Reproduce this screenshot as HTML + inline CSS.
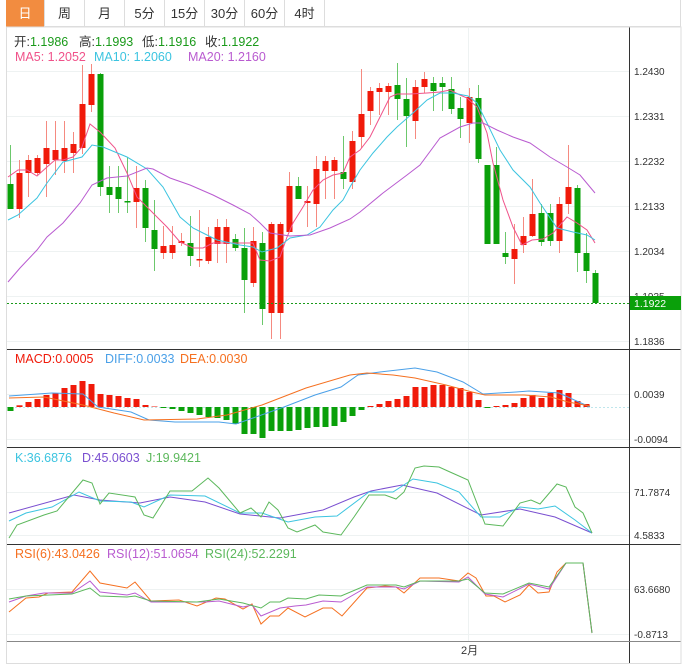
<!DOCTYPE html>
<html><head><meta charset="utf-8"><style>
body{margin:0;background:#fff;width:687px;height:672px;overflow:hidden;font-family:"Liberation Sans","Noto Sans CJK SC",sans-serif}
.tab{position:absolute;top:0;height:27px;line-height:27px;text-align:center;font-size:13px;color:#333;border-right:1px solid #ddd;box-sizing:border-box}
</style></head><body>
<div style="position:absolute;left:6px;top:0;width:675px;height:27px;border:1px solid #ddd;border-top:none;box-sizing:border-box"></div>
<div class="tab" style="left:6px;width:39px;background:#f28c40;color:#fff">日</div>
<div class="tab" style="left:45px;width:40px">周</div>
<div class="tab" style="left:85px;width:40px">月</div>
<div class="tab" style="left:125px;width:40px">5分</div>
<div class="tab" style="left:165px;width:40px">15分</div>
<div class="tab" style="left:205px;width:40px">30分</div>
<div class="tab" style="left:245px;width:40px">60分</div>
<div class="tab" style="left:285px;width:40px">4时</div>
<svg id="s" width="687" height="672" style="position:absolute;left:0;top:0" font-family="Liberation Sans, Noto Sans CJK SC, sans-serif">
<g stroke="#eef2f2" stroke-width="1">
<line x1="7" y1="71.5" x2="629" y2="71.5"/><line x1="7" y1="116.5" x2="629" y2="116.5"/><line x1="7" y1="161.5" x2="629" y2="161.5"/><line x1="7" y1="206.5" x2="629" y2="206.5"/><line x1="7" y1="251.5" x2="629" y2="251.5"/><line x1="7" y1="296.5" x2="629" y2="296.5"/><line x1="7" y1="341.5" x2="629" y2="341.5"/>
<line x1="7" y1="394.5" x2="629" y2="394.5"/><line x1="7" y1="439.5" x2="629" y2="439.5"/>
<line x1="7" y1="492.5" x2="629" y2="492.5"/><line x1="7" y1="535.5" x2="629" y2="535.5"/>
<line x1="7" y1="589.5" x2="629" y2="589.5"/><line x1="7" y1="634.5" x2="629" y2="634.5"/>
<line x1="468.5" y1="28" x2="468.5" y2="641"/>
</g>
<g stroke="#333" stroke-width="1">
<line x1="629.5" y1="27" x2="629.5" y2="664"/>
<line x1="7" y1="349.5" x2="681" y2="349.5"/><line x1="7" y1="447.5" x2="681" y2="447.5"/><line x1="7" y1="544.5" x2="681" y2="544.5"/>
</g>
<line x1="7" y1="641.5" x2="681" y2="641.5" stroke="#888"/>
<rect x="6.5" y="27" width="674.5" height="636.5" fill="none" stroke="#ddd"/>
<line x1="7" y1="407.5" x2="629" y2="407.5" stroke="#bfe6ec" stroke-dasharray="2,2"/>
<g id="c"></g>
<g fill="#333" font-size="10">
<text x="634" y="75">1.2430</text><text x="634" y="120">1.2331</text><text x="634" y="165">1.2232</text><text x="634" y="210">1.2133</text><text x="634" y="255">1.2034</text><text x="634" y="300">1.1935</text><text x="634" y="345">1.1836</text>
<text x="634" y="398">0.0039</text><text x="634" y="443">-0.0094</text>
<text x="634" y="496">71.7874</text><text x="634" y="539">4.5833</text>
<text x="634" y="593">63.6680</text><text x="634" y="638">-0.8713</text>
<text x="461" y="654" font-size="11">2月</text>
</g>
<line x1="7" y1="303.5" x2="629" y2="303.5" stroke="#1a9a1a" stroke-dasharray="2,2"/>
<rect x="630" y="296" width="51" height="14" fill="#0aa00a"/>
<text x="634" y="307" fill="#fff" font-size="10.5">1.1922</text>
<g font-size="12.5">
<text x="14" y="46"><tspan fill="#333">开:</tspan><tspan fill="#1a9a1a">1.1986</tspan></text>
<text x="79" y="46"><tspan fill="#333">高:</tspan><tspan fill="#1a9a1a">1.1993</tspan></text>
<text x="142" y="46"><tspan fill="#333">低:</tspan><tspan fill="#1a9a1a">1.1916</tspan></text>
<text x="205" y="46"><tspan fill="#333">收:</tspan><tspan fill="#1a9a1a">1.1922</tspan></text>
<text x="15" y="61" fill="#f0528a">MA5: 1.2052</text>
<text x="94" y="61" fill="#3cc4e0">MA10: 1.2060</text>
<text x="188" y="61" fill="#b95bd0">MA20: 1.2160</text>
<text x="15" y="363" fill="#f01a0a">MACD:0.0005</text>
<text x="105" y="363" fill="#4aa0e8">DIFF:0.0033</text>
<text x="180" y="363" fill="#f57020">DEA:0.0030</text>
<text x="15" y="462" fill="#3cc4e0">K:36.6876</text>
<text x="82" y="462" fill="#7a4fd0">D:45.0603</text>
<text x="146" y="462" fill="#5cb85c">J:19.9421</text>
<text x="15" y="558" fill="#f57020">RSI(6):43.0426</text>
<text x="107" y="558" fill="#b95bd0">RSI(12):51.0654</text>
<text x="205" y="558" fill="#5cb85c">RSI(24):52.2291</text>
</g>
</svg>
<script>
var C=[["G",145,184,209,209],["R",160,173,209,218],["R",155,160,173,197],["R",155,158,173,175],["R",121,148,164,197],["R",121,150,160,175],["R",121,148,161,173],["R",132,144,153,173],["R",65,104,148,154],["R",64,74,105,112],["G",73,74,187,196],["G",166,187,195,213],["G",166,187,199,213],["G",157,201,202,213],["R",166,188,202,228],["G",180,188,228,242],["G",200,230,249,271],["R",226,246,253,259],["R",226,245,253,259],["R",233,241,243,246],["G",216,243,256,266],["R",210,259,260,267],["R",227,237,261,264],["R",219,227,244,263],["R",219,227,244,263],["G",234,239,248,251],["G",228,248,280,313],["R",227,241,283,287],["G",232,243,309,325],["R",222,224,313,339],["R",222,224,313,339],["R",172,186,232,232],["G",177,186,199,199],["R",186,201,203,227],["R",156,169,204,227],["R",156,161,171,199],["R",157,160,171,199],["G",136,172,179,189],["R",131,141,182,189],["R",69,114,137,148],["R",87,91,111,125],["R",83,88,92,115],["R",83,86,92,115],["G",63,85,99,120],["G",78,99,116,147],["R",80,87,121,139],["R",72,79,87,93],["G",77,83,91,111],["G",77,83,87,111],["G",77,89,109,114],["G",97,108,119,138],["R",88,97,123,143],["G",85,98,159,163],["G",165,165,244,244],["G",147,165,244,244],["G",232,253,257,264],["R",224,249,259,284],["R",217,236,245,253],["R",179,214,236,237],["G",204,213,242,246],["G",204,213,241,246],["R",197,204,241,253],["R",145,187,204,214],["G",185,188,253,272],["G",233,253,271,283],["G",270,273,303,304]];
var M=[0,-1.7,-5,-8,-12,-14,-19,-22,-26,-23,-13,-12,-11,-9,-8,-2,-0.5,1,2,4,6,8,10,11,13,17,27,27,31,24,24,24,23,21,20,20,19,15,9,3,-1,-3,-6,-8,-11,-20,-20,-22,-22,-20,-19,-15,-7,1,-1,-2,-4,-9,-12,-9,-14,-17,-14,-6,-3,0];M[0]=4;
var h='';
function X(i){return 10+9*i}
C.forEach(function(c,i){var x=X(i),r=c[0]=="R";var col=r?"#f01a0a":"#0aa00a",wc=r?"#f58a80":"#6cc86c";
h+='<line x1="'+(x+.5)+'" y1="'+c[1]+'" x2="'+(x+.5)+'" y2="'+c[4]+'" stroke="'+wc+'"/>';
h+='<rect x="'+(x-2.5)+'" y="'+c[2]+'" width="6" height="'+Math.max(1.5,c[3]-c[2])+'" fill="'+col+'"/>';});
M.forEach(function(m,i){var x=X(i);if(Math.abs(m)<0.3)return;var col=m<0?"#f01a0a":"#0aa00a";
h+='<rect x="'+(x-2.5)+'" y="'+(m<0?407+m:407)+'" width="6" height="'+Math.abs(m)+'" fill="'+col+'"/>';});
function P(pts,col){h+='<polyline fill="none" stroke="'+col+'" stroke-width="1" points="'+pts+'"/>';}
P("8,177 18,170 27,170 37,176 47,167 55,160 63,160 73,157 82,147 90,124 100,132 115,148 127,173 137,197 147,207 157,217 167,227 180,242 193,248 203,248 213,243 227,243 240,243 253,243 260,260 270,261 280,257 287,237 293,223 303,207 313,190 323,180 333,175 343,173 350,157 360,150 370,137 380,117 390,97 397,94 410,94 427,93 440,92 450,90 460,95 467,98 477,107 487,133 493,163 503,200 513,227 522,245 532,240 543,239 553,233 567,217 577,223 587,230 595,243","#f0528a");
P("8,220 18,215 37,198 47,183 63,162 82,157 92,145 103,147 127,157 147,169 163,187 180,217 193,228 203,233 217,240 240,245 253,247 262,252 277,248 290,238 307,235 320,227 333,210 343,200 350,187 360,170 373,153 387,137 397,127 413,113 427,100 440,93 453,93 468,96 477,103 487,123 500,150 513,170 530,187 540,203 557,228 573,232 587,235 595,240","#3cc4e0");
P("8,282 20,268 37,250 47,237 63,223 80,203 92,185 107,178 127,176 147,168 153,169 170,178 190,185 213,195 233,205 250,214 260,223 270,233 290,236 310,235 330,228 350,219 360,212 383,193 407,175 420,165 440,138 460,127 473,123 483,123 497,130 513,137 530,143 550,157 567,167 580,175 595,193","#b95bd0");
P("9,396 52,393 83,394 98,407 131,412 149,420 175,422 219,422 236,424 253,418 284,407 315,395 341,387 358,375 380,372 415,368 437,372 463,382 483,394 516,392 529,391 559,393 581,403 590,407","#4aa0e8");
P("9,398 44,397 83,405 114,413 144,420 197,419 227,415 262,405 306,388 350,375 367,373 393,375 415,378 446,385 472,392 485,395 524,395 551,397 568,402 590,406","#f57020");
P("9,513 74,495 100,500 140,503 170,497 205,502 240,514 280,518 323,510 354,497 371,491 402,485 437,493 481,515 520,509 555,517 592,533","#7a4fd0");
P("9,521 26,513 52,507 79,492 100,501 131,502 144,507 170,495 205,496 240,513 262,513 288,522 315,517 337,516 369,492 393,492 413,479 437,483 459,492 481,517 500,517 520,507 538,509 555,506 575,520 592,533","#3cc4e0");
P("9,538 17,525 44,515 57,511 83,480 92,483 100,504 109,493 135,497 144,515 153,518 170,491 192,491 208,478 219,488 240,513 251,508 261,517 269,502 278,510 288,528 297,532 315,525 323,532 341,535 354,517 369,495 385,495 396,499 404,492 415,468 424,466 439,467 450,472 468,480 485,524 503,526 520,503 531,500 540,504 557,484 566,487 575,507 583,513 592,533","#5cb85c");
P("9,612 26,598 39,597 48,593 72,592 90,571 100,583 127,588 135,582 151,601 179,600 197,606 216,598 225,599 243,609 252,604 261,624 270,616 279,616 288,608 305,617 323,608 332,608 342,616 367,588 385,586 396,587 404,593 420,578 439,578 459,581 468,573 476,578 486,596 494,596 505,602 520,595 529,585 538,593 549,592 557,572 566,563 583,563 592,633","#f57020");
P("9,602 26,596 44,593 72,593 90,581 100,592 127,595 135,593 151,602 188,602 205,602 219,601 243,607 252,605 261,616 280,608 295,606 306,605 323,601 341,602 367,587 396,587 404,589 420,581 459,582 468,577 485,594 503,597 529,584 549,589 566,563 583,563 592,633","#b95bd0");
P("9,599 26,596 72,594 90,588 100,596 127,597 135,596 151,601 197,602 219,599 243,603 261,608 270,602 280,602 288,598 306,599 319,595 341,596 367,585 396,585 404,587 420,581 459,581 468,579 485,593 503,594 529,583 549,587 566,563 583,563 592,633","#5cb85c");
document.getElementById("c").innerHTML=h;
</script>
</body></html>
